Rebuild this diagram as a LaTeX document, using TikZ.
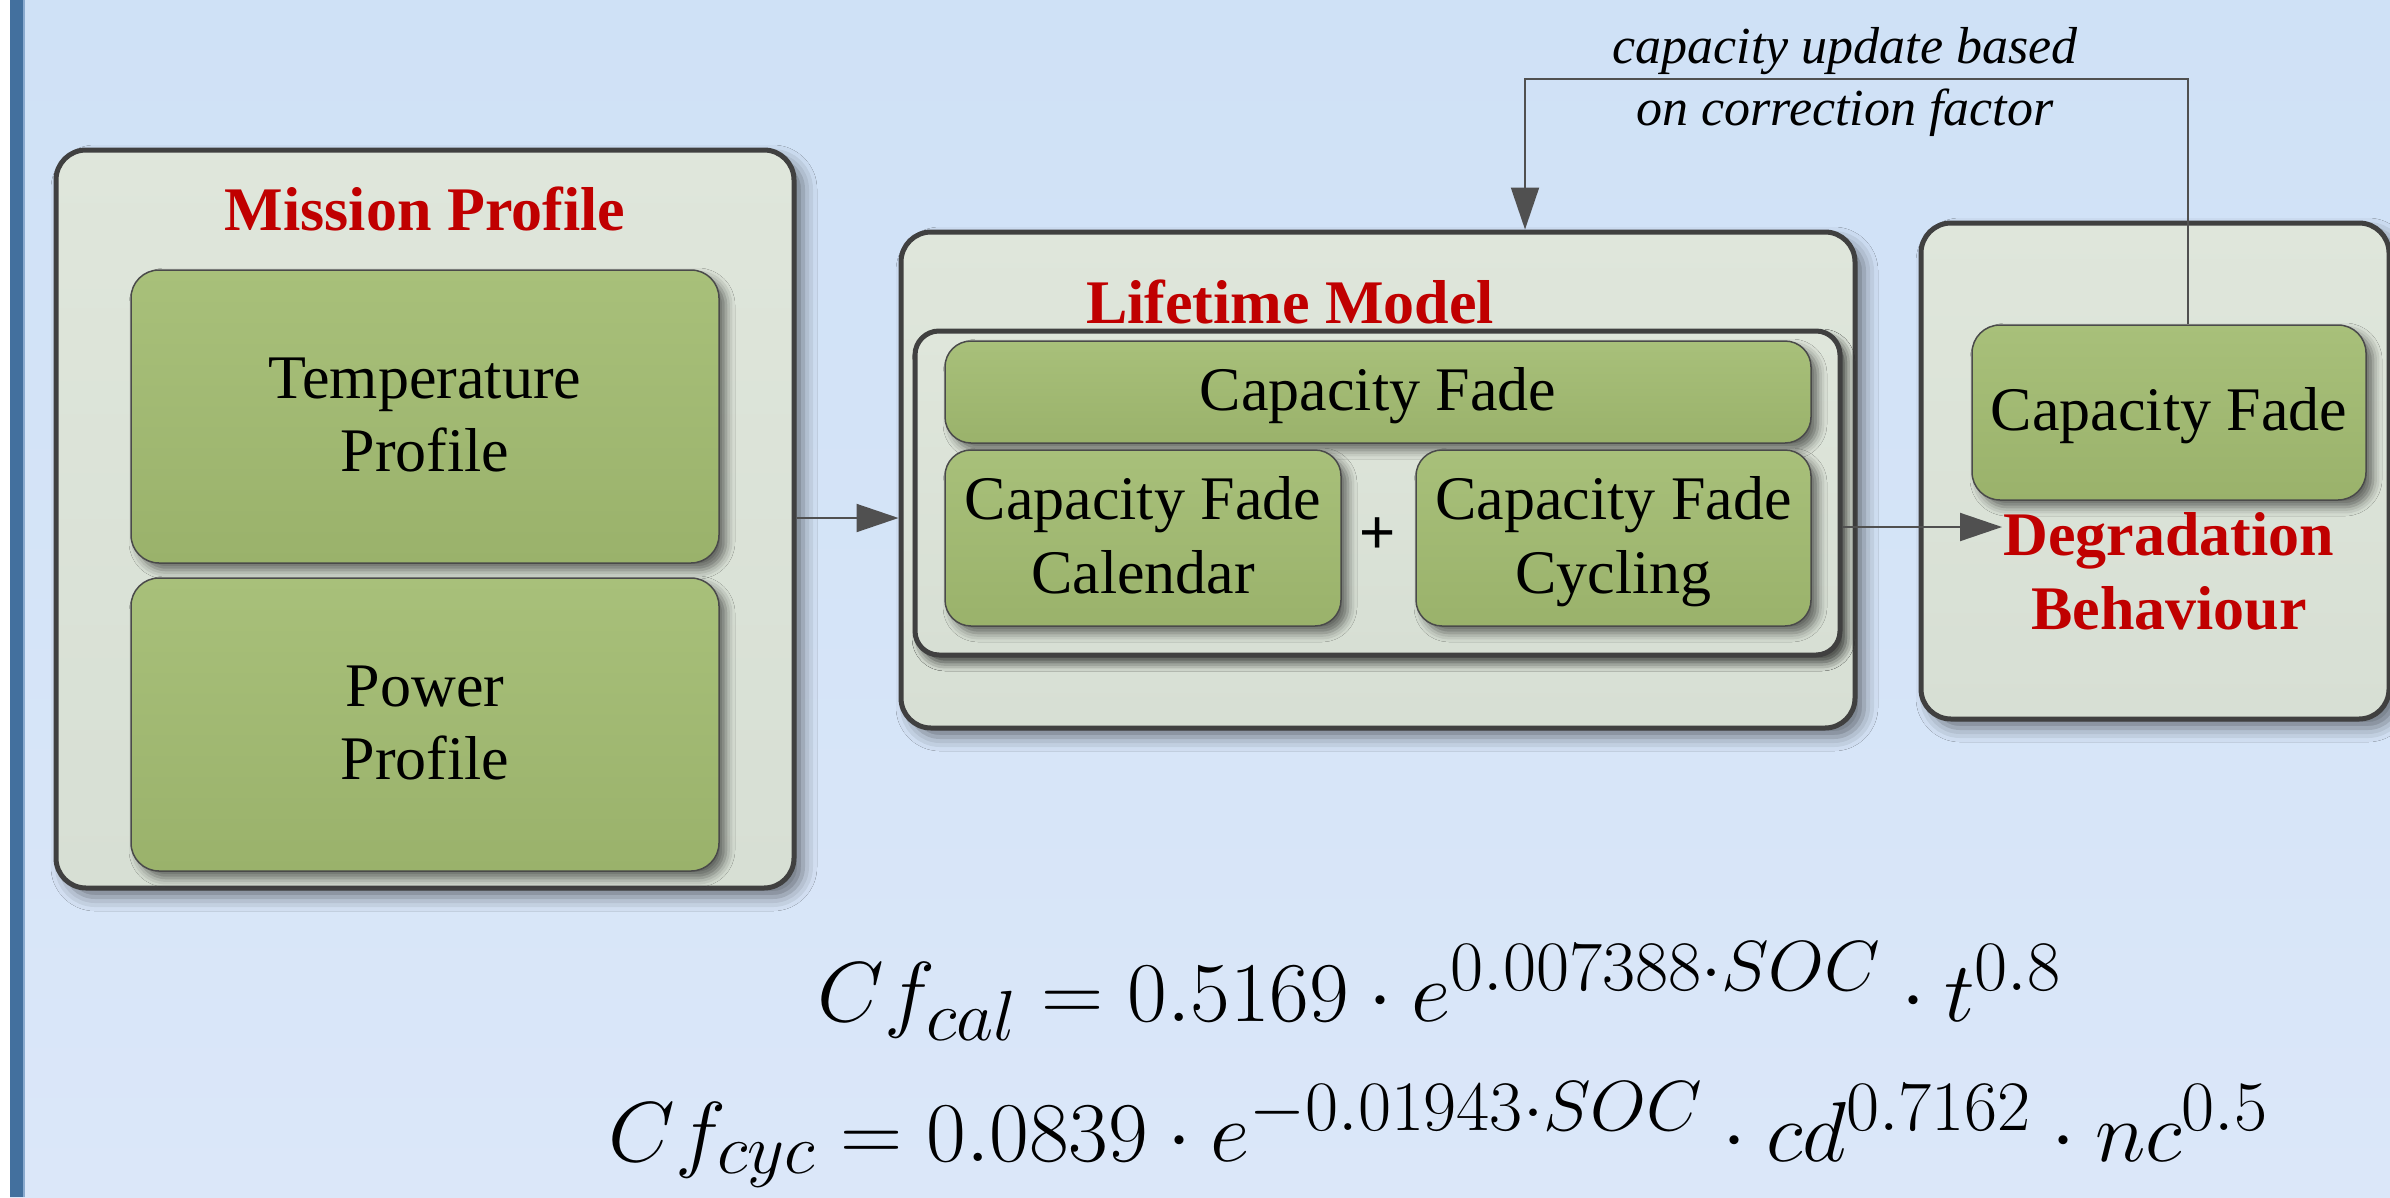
\documentclass[tikz,border=0pt]{standalone}
\usepackage{fontspec}
\setmainfont{Liberation Serif}
\newfontfamily\plusfont{Liberation Sans}
\usetikzlibrary{arrows.meta,shadows.blur}

\definecolor{bgtop}{HTML}{CFE1F6}
\definecolor{bgmid}{HTML}{C5DAF6}
\definecolor{bgbot}{HTML}{DBE7F9}
\definecolor{sidebar}{HTML}{43709E}
\definecolor{panel}{HTML}{D7DFD4}
\definecolor{paneltop}{HTML}{DFE6DB}
\definecolor{frame}{HTML}{404040}
\definecolor{leaf}{HTML}{9AB26B}
\definecolor{leaftop}{HTML}{A8C07A}
\definecolor{leafline}{HTML}{4A4A4A}
\definecolor{titlered}{HTML}{C00000}
\definecolor{wire}{HTML}{505050}

% large formulas: typeset at a stock size, then enlarged
\newcommand{\bigformula}[1]{\scalebox{3.47}[3.42]{\Huge$#1$}}

\begin{document}
\begin{tikzpicture}[x=1pt,y=-1pt,
  panelbox/.style={draw=frame, line width=5pt, rounded corners=30pt,
    top color=paneltop, bottom color=panel, inner sep=0pt,
    blur shadow={shadow xshift=9pt, shadow yshift=-9pt,
      shadow blur radius=14pt, shadow opacity=50}},
  leafbox/.style={draw=leafline, line width=1.5pt, rounded corners=28pt,
    top color=leaftop, middle color=leaf, bottom color=leaf, inner sep=0pt,
    blur shadow={shadow xshift=7pt, shadow yshift=-7pt,
      shadow blur radius=9pt, shadow opacity=55}},
  boxtext/.style={font=\fontsize{62}{73}\selectfont, text=black, inner sep=0pt},
  titletext/.style={font=\fontsize{62}{73}\selectfont\bfseries, text=titlered, inner sep=0pt},
  notetext/.style={font=\fontsize{52}{62}\selectfont\itshape, text=black, inner sep=0pt},
  eqtext/.style={text=black, inner sep=0pt},
  link/.style={draw=wire, line width=2pt, -{Triangle[length=42pt,width=28pt]}},
]
\useasboundingbox (0,0) rectangle (2390,1197);

% backdrop and side bar
\fill[white] (0,0) rectangle (2390,1197);
\shade[top color=bgtop, middle color=bgmid, bottom color=bgbot] (10,0) rectangle (2390,1197);
\fill[sidebar] (10,0) rectangle (23,1197);
\fill[sidebar!45!bgmid] (23,0) rectangle (25,1197);

% mission profile
\node[panelbox, minimum width=738pt, minimum height=738pt] (mission) at (425,519) {};
\node[titletext, anchor=base] (missiontitle) at (425,230) {Mission Profile};
\node[leafbox, minimum width=588pt, minimum height=293pt] (temp) at (425,416.5) {};
\node[boxtext, anchor=base] (temp1) at (425,398) {Temperature};
\node[boxtext, anchor=base] (temp2) at (425,471) {Profile};
\node[leafbox, minimum width=588pt, minimum height=293pt] (power) at (425,724.5) {};
\node[boxtext, anchor=base] (power1) at (425,706) {Power};
\node[boxtext, anchor=base] (power2) at (425,779) {Profile};

% lifetime model
\node[panelbox, minimum width=954pt, minimum height=496pt] (lifetime) at (1378,480) {};
\node[titletext, anchor=base] (lifetimetitle) at (1290,323) {Lifetime Model};
\node[panelbox, rounded corners=24pt, minimum width=925pt, minimum height=324pt,
  blur shadow={shadow xshift=6pt, shadow yshift=-7pt,
    shadow blur radius=9pt, shadow opacity=45}]
  (inner) at (1377.5,493) {};
\node[leafbox, rounded corners=26pt, minimum width=866pt, minimum height=102pt] (cftop) at (1378,392) {};
\node[boxtext, anchor=base] (cftoptext) at (1378,410) {Capacity Fade};
\node[leafbox, rounded corners=26pt, minimum width=396pt, minimum height=176pt] (cal) at (1143,538) {};
\node[boxtext, anchor=base] (cal1) at (1143,519) {Capacity Fade};
\node[boxtext, anchor=base] (cal2) at (1143,593) {Calendar};
\node[leafbox, rounded corners=26pt, minimum width=395pt, minimum height=176pt] (cyc) at (1613.5,538) {};
\node[boxtext, anchor=base] (cyc1) at (1613.5,519) {Capacity Fade};
\node[boxtext, anchor=base] (cyc2) at (1613.5,593) {Cycling};
\node[boxtext, font=\fontsize{62}{73}\selectfont\plusfont] (plus) at (1378,536) {+};

% degradation behaviour
\node[panelbox, minimum width=468pt, minimum height=496pt] (degr) at (2155,471) {};
\node[leafbox, minimum width=394pt, minimum height=175pt] (rcf) at (2169,412.5) {};
\node[boxtext, anchor=base] (rcftext) at (2169,430) {Capacity Fade};
\node[titletext, anchor=base] (degr1) at (2169,555) {Degradation};
\node[titletext, anchor=base] (degr2) at (2169,629) {Behaviour};

% connectors
\coordinate (row1) at (0,518);
\coordinate (row2) at (0,527);
\coordinate (degrtip) at (2002,527);
\coordinate (fbup) at (2188,79);
\coordinate (fbdown) at (1525,79);
\draw[link] (mission.east |- row1) -- (lifetime.west |- row1);
\draw[link] (inner.east |- row2) -- (degrtip);
\draw[link] (rcf.north -| fbup) -- (fbup) -- (fbdown) -- (lifetime.north -| fbdown);

\node[notetext, anchor=base] (note1) at (1845,63) {capacity update based};
\node[notetext, anchor=base] (note2) at (1845,125) {on correction factor};

% equations
\node[eqtext, anchor=base] (eqcal) at (1440,1021)
  {\bigformula{Cf_{cal} = 0.5169\cdot e^{0.007388\cdot SOC}\cdot t^{0.8}}};
\node[eqtext, anchor=base] (eqcyc) at (1439,1161)
  {\bigformula{Cf_{cyc} = 0.0839\cdot e^{-0.01943\cdot SOC}\cdot cd^{0.7162}\cdot nc^{0.5}}};
\end{tikzpicture}
\end{document}
